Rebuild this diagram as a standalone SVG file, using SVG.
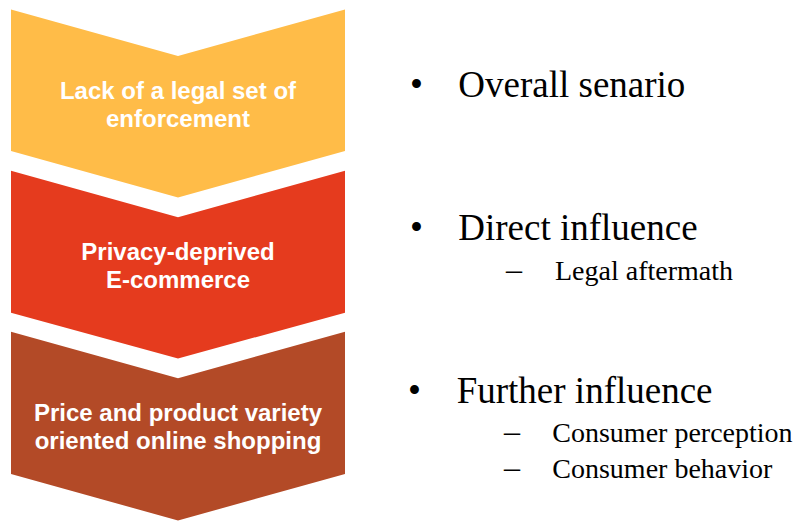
<svg xmlns="http://www.w3.org/2000/svg" width="806" height="521" viewBox="0 0 806 521">
<style>
.lbl{font-family:"Liberation Sans",Arial,sans-serif;font-weight:bold;font-size:24px;fill:#FFFFFF;text-anchor:middle}
.b1{font-family:"Liberation Serif","Times New Roman",serif;font-size:37px;fill:#000}
.b2{font-family:"Liberation Serif","Times New Roman",serif;font-size:28px;fill:#000}
.d{font-family:"Liberation Serif","Times New Roman",serif;font-size:32px;fill:#000}
</style>
<rect width="806" height="521" fill="#FFFFFF"/>
<g id="step1">
<polygon points="11,9.5 178,56 345,9.5 345,151 178,197.5 11,151" fill="#FFBC48"/>
<text class="lbl" x="178" y="98.7">Lack of a legal set of</text>
<text class="lbl" x="178" y="126.7">enforcement</text>
</g>
<g id="step2">
<polygon points="11,170.7 178,217.3 345,170.7 345,312.7 178,358.5 11,312.7" fill="#E53B1E"/>
<text class="lbl" x="178" y="260">Privacy-deprived</text>
<text class="lbl" x="178" y="287.5">E-commerce</text>
</g>
<g id="step3">
<polygon points="11,331.7 178,378.3 345,331.7 345,474 178,520.5 11,474" fill="#B34A27"/>
<text class="lbl" x="178" y="420.7">Price and product variety</text>
<text class="lbl" x="178" y="449">oriented online shopping</text>
</g>
<g id="connectors"></g>
<g id="bullets">
<text class="b1" x="410" y="96.7">•</text>
<text class="b1" x="458.3" y="96.7">Overall senario</text>
<text class="b1" x="410" y="240">•</text>
<text class="b1" x="458.3" y="240">Direct influence</text>
<text class="d" x="506" y="280">–</text>
<text class="b2" x="555" y="280">Legal aftermath</text>
<text class="b1" x="408" y="402.7">•</text>
<text class="b1" x="456.7" y="402.7">Further influence</text>
<text class="d" x="504" y="441.7">–</text>
<text class="b2" x="552.3" y="441.7">Consumer perception</text>
<text class="d" x="504" y="477.7">–</text>
<text class="b2" x="552.3" y="477.7">Consumer behavior</text>
</g>
</svg>
